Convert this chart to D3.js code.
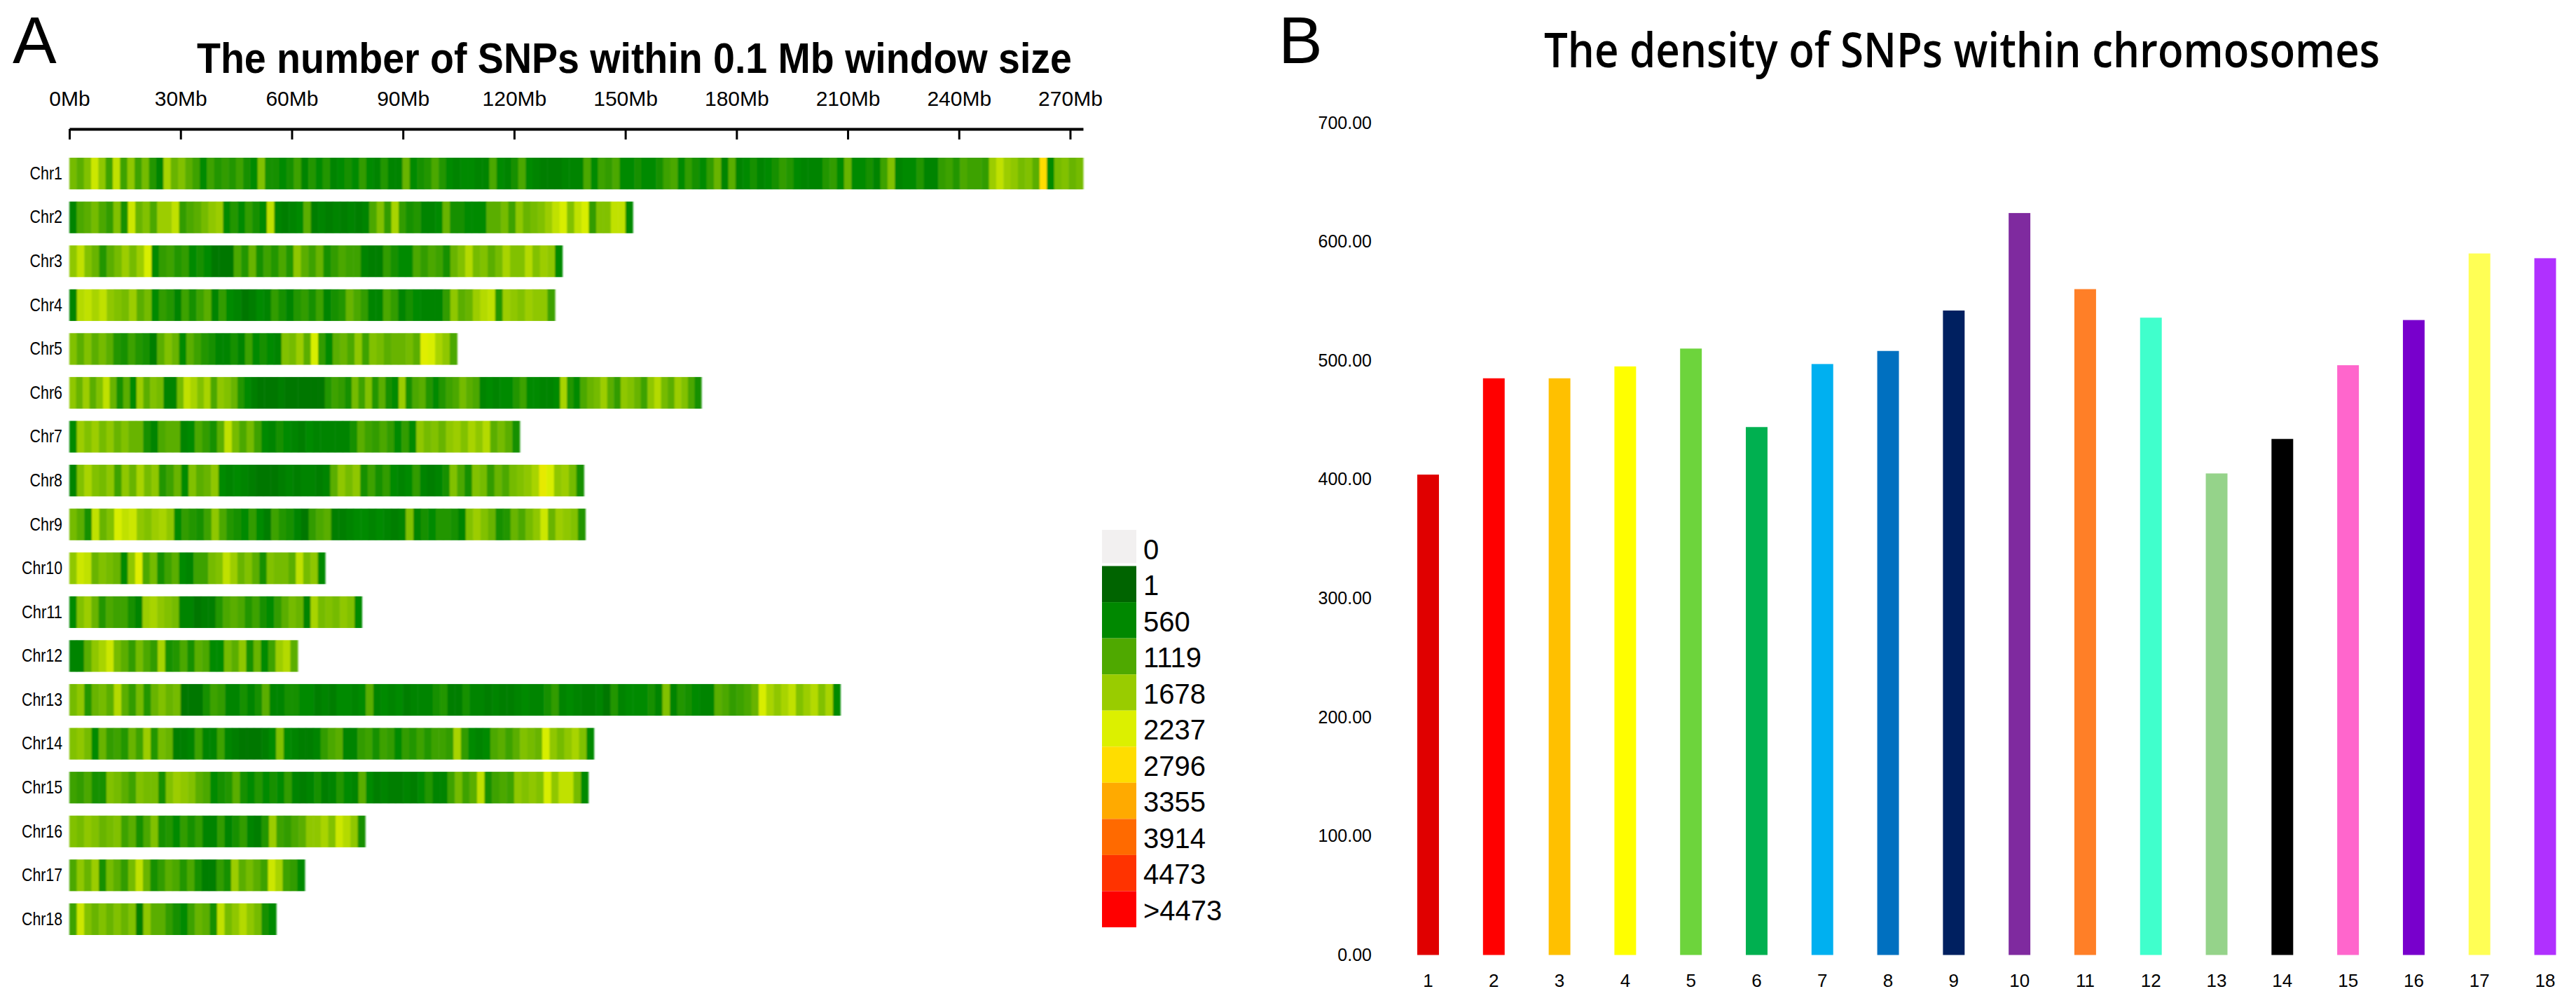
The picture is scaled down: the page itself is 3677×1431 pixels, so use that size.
<!DOCTYPE html>
<html>
<head>
<meta charset="utf-8">
<title>SNP density</title>
<script src="https://d3js.org/d3.v7.min.js"></script>
<style>
  body { margin: 0; background: #fff; }
  svg { display: block; }
  text { fill: #000; }
</style>
</head>
<body>
<div id="chart"></div>
<script>
// panel A - chromosome names, lengths (Mb) and axis ticks
var chromNames = ["Chr1","Chr2","Chr3","Chr4","Chr5","Chr6","Chr7","Chr8","Chr9","Chr10","Chr11","Chr12","Chr13","Chr14","Chr15","Chr16","Chr17","Chr18"];
var chromLengths = [273.5,152,133,131,104.6,170.5,121.5,138.8,139.2,69,78.9,61.6,208,141.5,140,79.8,63.5,55.8];
var mbTicks = [0,30,60,90,120,150,180,210,240,270];

var chr1 = [14,12,15,21,16,10,20,10,16,10,14,8,5,18,13,15,12,10,6,10,8,9,8,10,7,6,15,7,7,6,7,10,5,8,6,8,5,6,7,6,9,6,5,8,5,5,13,6,7,8,11,8,6,5,6,6,5,5,11,6,5,7,11,6,5,4,4,4,
  5,5,5,11,6,10,9,11,6,6,7,6,6,7,10,11,6,9,7,6,9,13,5,12,5,6,7,5,6,7,9,8,6,5,5,5,8,9,6,13,6,6,7,5,10,15,5,6,6,8,5,5,9,10,8,11,10,10,9,17,20,17,16,14,15,12,28,6,14,15,13,14];
var chr2 = [5,11,12,14,11,9,15,7,21,13,15,11,17,17,20,9,11,12,14,16,17,6,8,6,9,7,6,20,5,4,5,6,12,4,5,4,5,4,5,4,5,11,15,9,18,9,7,8,5,5,6,13,7,7,6,6,6,12,12,14,10,16,13,14,15,17,20,22,15,20,22,9,15,15,20,20,6];
var chr3 = [16,20,15,13,8,12,14,17,14,17,22,6,9,10,8,9,6,7,6,3,3,3,11,8,13,7,10,8,11,8,16,12,10,13,7,9,11,10,10,5,4,4,9,7,6,6,11,9,11,10,7,13,15,19,14,15,12,14,18,15,15,19,15,17,16,6];
var chr4 = [5,19,20,18,20,16,15,14,17,12,14,6,9,8,5,10,7,10,12,5,9,6,5,3,4,6,5,9,7,5,8,9,7,10,5,7,8,13,11,9,5,5,11,9,5,7,6,5,5,5,9,16,12,13,17,19,20,8,17,16,15,17,16,16,10];
var chr5 = [15,12,15,12,14,12,8,7,10,8,7,4,12,15,13,6,12,10,8,7,5,5,7,5,10,6,7,6,5,15,14,17,12,22,9,6,12,13,11,16,10,15,14,12,13,13,14,12,23,22,18,16,11];
var chr6 = [16,13,17,12,15,20,13,7,12,6,17,12,15,14,5,5,14,20,18,15,18,11,16,15,13,8,6,4,3,3,3,4,3,3,3,3,3,3,8,10,9,7,14,10,15,8,12,7,6,17,7,11,12,8,6,8,10,11,14,12,11,5,6,5,6,6,8,10,
  6,6,5,5,6,18,8,6,11,13,14,17,12,9,16,15,13,10,16,19,14,12,17,15,11,7];
var chr7 = [6,17,15,17,14,16,13,15,13,13,7,5,11,12,12,5,6,11,9,7,12,20,14,11,14,10,6,5,7,6,5,4,6,5,5,5,5,5,7,12,10,9,11,9,6,9,6,16,14,15,13,16,17,15,18,16,19,12,14,12,7];
var chr8 = [5,15,18,15,14,16,10,16,13,18,14,16,8,10,13,6,15,12,13,16,6,5,6,5,4,3,3,3,4,5,4,5,5,4,5,12,16,14,16,7,10,7,9,6,5,6,9,5,4,5,7,15,11,7,15,14,9,13,11,14,15,16,18,24,22,16,17,14,7];
var chr9 = [14,12,7,20,13,15,22,20,21,16,15,17,18,16,6,9,8,7,10,16,11,8,7,6,9,6,4,10,8,7,5,3,9,11,12,4,4,5,6,6,5,6,5,4,5,15,5,7,6,8,8,7,5,15,17,15,13,7,8,13,11,14,16,21,13,17,16,15,8];
var chr10 = [16,21,20,13,15,14,13,6,16,23,11,14,7,10,12,6,5,10,10,14,15,20,17,13,15,12,7,15,14,14,12,20,14,16,6];
var chr11 = [6,15,17,13,8,11,10,10,7,5,17,18,16,15,14,5,5,3,4,4,8,11,12,11,8,10,7,6,9,12,14,13,5,18,14,15,14,16,15,6];
var chr12 = [5,5,12,16,18,21,14,12,9,14,11,9,18,7,8,11,7,12,11,6,6,14,12,16,7,13,6,10,17,19,12];
var chr13 = [14,16,8,13,14,12,19,12,9,14,8,13,15,13,14,3,3,3,7,10,9,5,5,7,5,7,12,5,5,7,7,6,6,4,5,4,6,6,5,6,12,5,6,5,6,4,5,5,5,7,8,4,4,7,5,5,4,5,4,4,5,6,5,5,7,9,5,
  6,5,4,4,5,3,8,5,6,6,6,7,5,15,5,8,7,6,5,5,12,11,9,10,11,13,22,18,16,18,20,15,17,19,15,18,6];
var chr14 = [15,16,14,6,13,9,10,8,13,10,17,8,14,13,4,4,5,10,5,5,10,5,4,3,3,3,4,6,15,6,5,4,4,5,9,11,12,5,5,9,10,7,10,9,6,9,8,10,8,10,10,9,18,9,6,5,6,11,12,10,12,15,14,13,22,16,14,16,18,15,6];
var chr15 = [10,9,11,7,7,15,14,12,10,15,14,14,7,15,17,16,15,12,11,6,7,8,12,7,6,8,6,7,6,9,5,4,5,7,4,5,8,6,5,12,6,4,5,4,4,5,4,6,8,5,5,10,14,10,12,20,7,10,11,10,16,15,16,15,22,16,20,20,14,6];
var chr16 = [15,14,16,15,13,14,15,10,12,7,11,15,7,8,6,9,7,9,5,5,9,5,7,9,5,4,8,17,10,9,11,12,16,16,18,15,21,19,16,7];
var chr17 = [11,16,13,17,7,14,12,9,14,20,13,7,9,12,11,8,11,7,4,4,9,7,17,12,14,12,10,21,18,10,9,6];
var chr18 = [10,21,15,13,15,13,15,13,15,4,16,12,12,9,7,6,10,13,12,7,20,14,16,19,16,14,7,6];
var chromCounts = [chr1,chr2,chr3,chr4,chr5,chr6,chr7,chr8,chr9,chr10,chr11,chr12,chr13,chr14,chr15,chr16,chr17,chr18];

// legend of panel A
var legendLabels = ["0","1","560","1119","1678","2237","2796","3355","3914","4473",">4473"];
var legendBreaks = [0,1,560,1119,1678,2237,2796,3355,3914,4473,5032];
var legendColors = ["#f2f0f0","#006400","#008800","#4fa900","#99cc00","#dcf000","#ffdd00","#ffaa00","#ff6a00","#ff3300","#ff0000"];

// panel B - density per chromosome
var densityChroms = ["1","2","3","4","5","6","7","8","9","10","11","12","13","14","15","16","17","18"];
var densityValues = [404,485,485,495,510,444,497,508,542,624,560,536,405,434,496,534,590,586];
var densityColors = ["#e00000","#ff0000","#ffc000","#ffff00","#6dd43c","#00b050","#00b0f0","#0070c0","#002060","#7f2a9f","#ff7f27","#40ffcc","#95d38a","#000000","#ff66cc","#7800cc","#ffff55","#b030ff"];
var densityTicks = [0,100,200,300,400,500,600,700];

var width = 3677, height = 1431;
var sans = '"Liberation Sans", Arial, sans-serif';

var svg = d3.select("#chart").append("svg")
    .attr("width", width)
    .attr("height", height)
    .style("background", "#fff");

// the stripes are a little soft in the original
var blur = svg.append("defs").append("filter")
    .attr("id", "soft")
    .attr("x", "-1%").attr("width", "102%")
    .attr("y", "-5%").attr("height", "110%");
blur.append("feGaussianBlur").attr("stdDeviation", "1.3 0.6");

// panel letters
svg.append("text").attr("x", 18).attr("y", 90)
    .style("font-family", sans).style("font-size", "94px").text("A");
svg.append("text").attr("x", 1825).attr("y", 90)
    .style("font-family", sans).style("font-size", "94px").text("B");

// ---------- panel A ----------
svg.append("text")
    .attr("x", 281).attr("y", 104)
    .attr("textLength", 1249)
    .attr("lengthAdjust", "spacingAndGlyphs")
    .style("font-family", sans)
    .style("font-size", "61px")
    .style("font-weight", "bold")
    .text("The number of SNPs within 0.1 Mb window size");

var x = d3.scaleLinear()
    .domain([0, d3.max(chromLengths)])
    .range([99, 1546]);

var rowY = d3.scaleBand()
    .domain(chromNames)
    .range([225, 1334])
    .paddingInner(0.278);

var color = d3.scaleLinear()
    .domain(legendBreaks)
    .range(legendColors);

var xAxis = svg.append("g")
    .attr("transform", "translate(0,184)")
    .call(d3.axisBottom(x)
      .tickValues(mbTicks)
      .tickSizeInner(15)
      .tickSizeOuter(0)
      .tickFormat(function(d) { return d + "Mb"; }));
xAxis.select(".domain").attr("stroke", "#000").attr("stroke-width", 4);
xAxis.selectAll(".tick line").attr("stroke", "#000").attr("stroke-width", 3);
xAxis.selectAll("text")
    .attr("y", -33)
    .attr("dy", 0)
    .style("font-family", sans)
    .style("font-size", "30px");

var yAxis = svg.append("g")
    .attr("transform", "translate(89,0)")
    .call(d3.axisLeft(rowY).tickSize(0).tickPadding(0));
yAxis.select(".domain").remove();
yAxis.selectAll("text")
    .attr("textLength", function(d) { return d.length * 11.6; })
    .attr("lengthAdjust", "spacingAndGlyphs")
    .style("font-family", sans)
    .style("font-size", "26px");

var rows = svg.append("g").selectAll("g")
    .data(chromNames)
    .join("g")
      .attr("filter", "url(#soft)");

rows.each(function(name, c) {
  var counts = chromCounts[c];
  var step = chromLengths[c] / counts.length;
  d3.select(this).selectAll("rect")
    .data(counts)
    .join("rect")
      .attr("x", function(d, i) { return x(i * step); })
      .attr("y", rowY(name))
      .attr("width", function(d, i) { return x((i + 1) * step) - x(i * step) + 0.5; })
      .attr("height", rowY.bandwidth())
      .attr("fill", function(d) { return color(d * 100); });
});

// legend
var legendY = d3.scaleBand()
    .domain(legendLabels)
    .range([756, 1323]);

var legend = svg.append("g");
legend.selectAll("rect")
    .data(legendLabels)
    .join("rect")
      .attr("x", 1573)
      .attr("y", function(d) { return legendY(d); })
      .attr("width", 49)
      .attr("height", function(d, i) { return i == 0 ? legendY.bandwidth() - 4 : legendY.bandwidth(); })
      .attr("fill", function(d, i) { return legendColors[i]; });
legend.selectAll("text")
    .data(legendLabels)
    .join("text")
      .attr("x", 1632)
      .attr("y", function(d) { return legendY(d) + legendY.bandwidth() - 10; })
      .style("font-family", sans)
      .style("font-size", "40px")
      .text(function(d) { return d; });

// ---------- panel B ----------
svg.append("text")
    .attr("x", 2204).attr("y", 96)
    .attr("textLength", 1193)
    .attr("lengthAdjust", "spacingAndGlyphs")
    .style("font-family", '"Open Sans", "Noto Sans", sans-serif')
    .style("font-size", "68px")
    .style("font-weight", "600")
    .text("The density of SNPs within chromosomes");

var barX = d3.scaleBand()
    .domain(densityChroms)
    .range([1991.6, 3679.9])
    .paddingInner(0.67)
    .paddingOuter(0.335);

var barY = d3.scaleLinear()
    .domain([0, 700])
    .range([1362.5, 175]);

var barAxisY = svg.append("g")
    .attr("transform", "translate(1958,0)")
    .call(d3.axisLeft(barY)
      .tickValues(densityTicks)
      .tickSize(0)
      .tickPadding(0)
      .tickFormat(d3.format(".2f")));
barAxisY.select(".domain").remove();
barAxisY.selectAll("text")
    .style("font-family", sans)
    .style("font-size", "25px");

var barAxisX = svg.append("g")
    .attr("transform", "translate(0,1389)")
    .call(d3.axisBottom(barX).tickSize(0).tickPadding(0));
barAxisX.select(".domain").remove();
barAxisX.selectAll("text")
    .attr("dy", "0.72em")
    .style("font-family", sans)
    .style("font-size", "26px");

svg.append("g").selectAll("rect")
    .data(densityChroms)
    .join("rect")
      .attr("x", function(d) { return barX(d); })
      .attr("y", function(d, i) { return barY(densityValues[i]); })
      .attr("width", barX.bandwidth())
      .attr("height", function(d, i) { return barY(0) - barY(densityValues[i]); })
      .attr("fill", function(d, i) { return densityColors[i]; });
</script>
</body>
</html>
